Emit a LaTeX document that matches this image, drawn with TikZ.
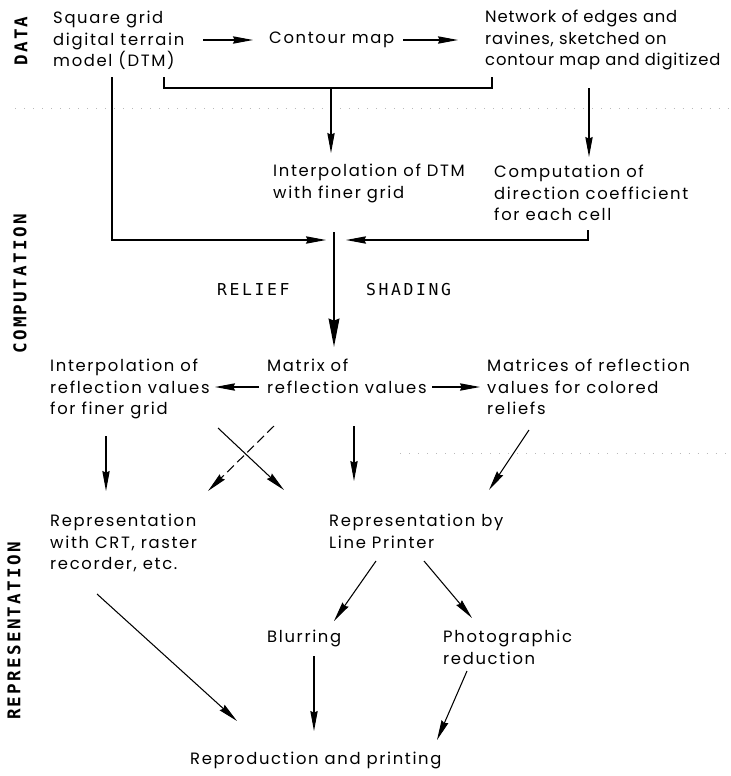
\documentclass[tikz,border=0pt]{standalone}
\usepackage{fontspec}
\setmainfont{Poppins}[LetterSpace=10]
\newfontfamily\tightfont{Poppins}[LetterSpace=5]
\newfontfamily\stencilfont{DejaVu Sans Mono}[LetterSpace=16]
\newfontfamily\sidecaps{DejaVu Sans Mono}[LetterSpace=13]
\usetikzlibrary{arrows.meta}

\newcommand{\txtfont}{\fontsize{14}{18.3}\selectfont}
\newcommand{\sidefont}{\sidecaps\fontsize{15}{18}\selectfont\bfseries}

\tikzset{
  txt/.style={anchor=north west, inner sep=0pt, align=left, font=\txtfont},
  spaced/.style={txt, font=\stencilfont\txtfont},
  side/.style={rotate=90, inner sep=0pt, font=\sidefont},
  arr/.style={line width=0.9pt, -{Stealth[length=0.6cm,width=0.22cm,inset=0.05cm]}},
  bigarr/.style={line width=2pt, -{Stealth[length=0.85cm,width=0.32cm,inset=0.06cm]}},
  dotline/.style={gray!55, line width=0.7pt, dash pattern=on 0.7pt off 7pt}
}

\begin{document}
\begin{tikzpicture}[x=0.03cm, y=-0.03cm]
  \useasboundingbox (0,0) rectangle (731,776);

  % section labels
  \node[side] (data) at (21,41) {DATA};
  \node[side] (comp) at (20,284) {COMPUTATION};
  \node[side] (repr) at (14,631) {REPRESENTATION};

  % faint separators
  \draw[dotline] (15,108) -- (730,108);
  \draw[dotline] (400,453) -- (730,453);

  % data
  \node[txt] (dtm) at (53,11) {Square grid\\digital terrain\\model (DTM)};
  \node[txt] (contour) at (269,32) {Contour map};
  \node[txt, font=\tightfont\txtfont] (network) at (485,10) {Network of edges and\\ravines, sketched on\\contour map and digitized};

  % computation
  \node[txt] (interp) at (273,164) {Interpolation of DTM\\with finer grid};
  \node[txt] (comput) at (494,165) {Computation of\\direction coefficient\\for each cell};
  \node[spaced] (relief) at (217,283) {RELIEF};
  \node[spaced] (shading) at (366,283) {SHADING};
  \node[txt] (interprefl) at (50,359) {Interpolation of\\reflection values\\for finer grid};
  \node[txt] (matrix) at (267,359) {Matrix of\\reflection values};
  \node[txt] (matrices) at (487,359) {Matrices of reflection\\values for colored\\reliefs};

  % representation
  \node[txt] (reprcrt) at (50,514) {Representation\\with CRT, raster\\recorder, etc.};
  \node[txt] (reprlp) at (329,514) {Representation by\\Line Printer};
  \node[txt] (blur) at (267,630) {Blurring};
  \node[txt] (photo) at (443,630) {Photographic\\reduction};
  \node[txt] (repro) at (190,752) {Reproduction and printing};

  % data row
  \draw[arr] ([shift={(150,29)}]dtm.north west) -- ([shift={(-16,8)}]contour.north west);
  \draw[arr] ([shift={(134,8)}]contour.north west) -- ([shift={(-27,30)}]network.north west);
  \draw[line width=0.9pt] ([shift={(111,66)}]dtm.north west) -- ++(0,11)
    -| ([shift={(7,67)}]network.north west);
  \draw[arr] ([shift={(58,-76)}]interp.north west) -- ([shift={(58,-11)}]interp.north west);
  \draw[arr] ([shift={(104,78)}]network.north west) -- ([shift={(95,-8)}]comput.north west);

  % into relief shading
  \draw[arr] ([shift={(59,66)}]dtm.north west) |- ([shift={(53,76)}]interp.north west);
  \draw[arr] ([shift={(94,65)}]comput.north west) |- ([shift={(73,76)}]interp.north west);
  \draw[bigarr] ([shift={(61,68)}]interp.north west) -- ([shift={(67,-12)}]matrix.north west);

  % matrix row
  \draw[arr] ([shift={(-8,28)}]matrix.north west) -- ([shift={(165,28)}]interprefl.north west);
  \draw[arr] ([shift={(165,28)}]matrix.north west) -- ([shift={(-7,28)}]matrices.north west);

  % down to representation
  \draw[arr] ([shift={(56,77)}]interprefl.north west) -- ([shift={(56,-23)}]reprcrt.north west);
  \draw[arr] ([shift={(168,69)}]interprefl.north west) -- ([shift={(-45,-24)}]reprlp.north west);
  \draw[arr, dash pattern=on 8pt off 4pt] ([shift={(7,67)}]matrix.north west) -- ([shift={(158,-23)}]reprcrt.north west);
  \draw[arr] ([shift={(87,67)}]matrix.north west) -- ([shift={(25,-33)}]reprlp.north west);
  \draw[arr] ([shift={(42,71)}]matrices.north west) -- ([shift={(160,-24)}]reprlp.north west);

  % output
  \draw[arr] ([shift={(47,47)}]reprlp.north west) -- ([shift={(67,-9)}]blur.north west);
  \draw[arr] ([shift={(95,47)}]reprlp.north west) -- ([shift={(29,-12)}]photo.north west);
  \draw[arr] ([shift={(47,80)}]reprcrt.north west) -- ([shift={(47,-31)}]repro.north west);
  \draw[arr] ([shift={(47,26)}]blur.north west) -- ([shift={(124,-21)}]repro.north west);
  \draw[arr] ([shift={(24,41)}]photo.north west) -- ([shift={(247,-12)}]repro.north west);
\end{tikzpicture}
\end{document}
